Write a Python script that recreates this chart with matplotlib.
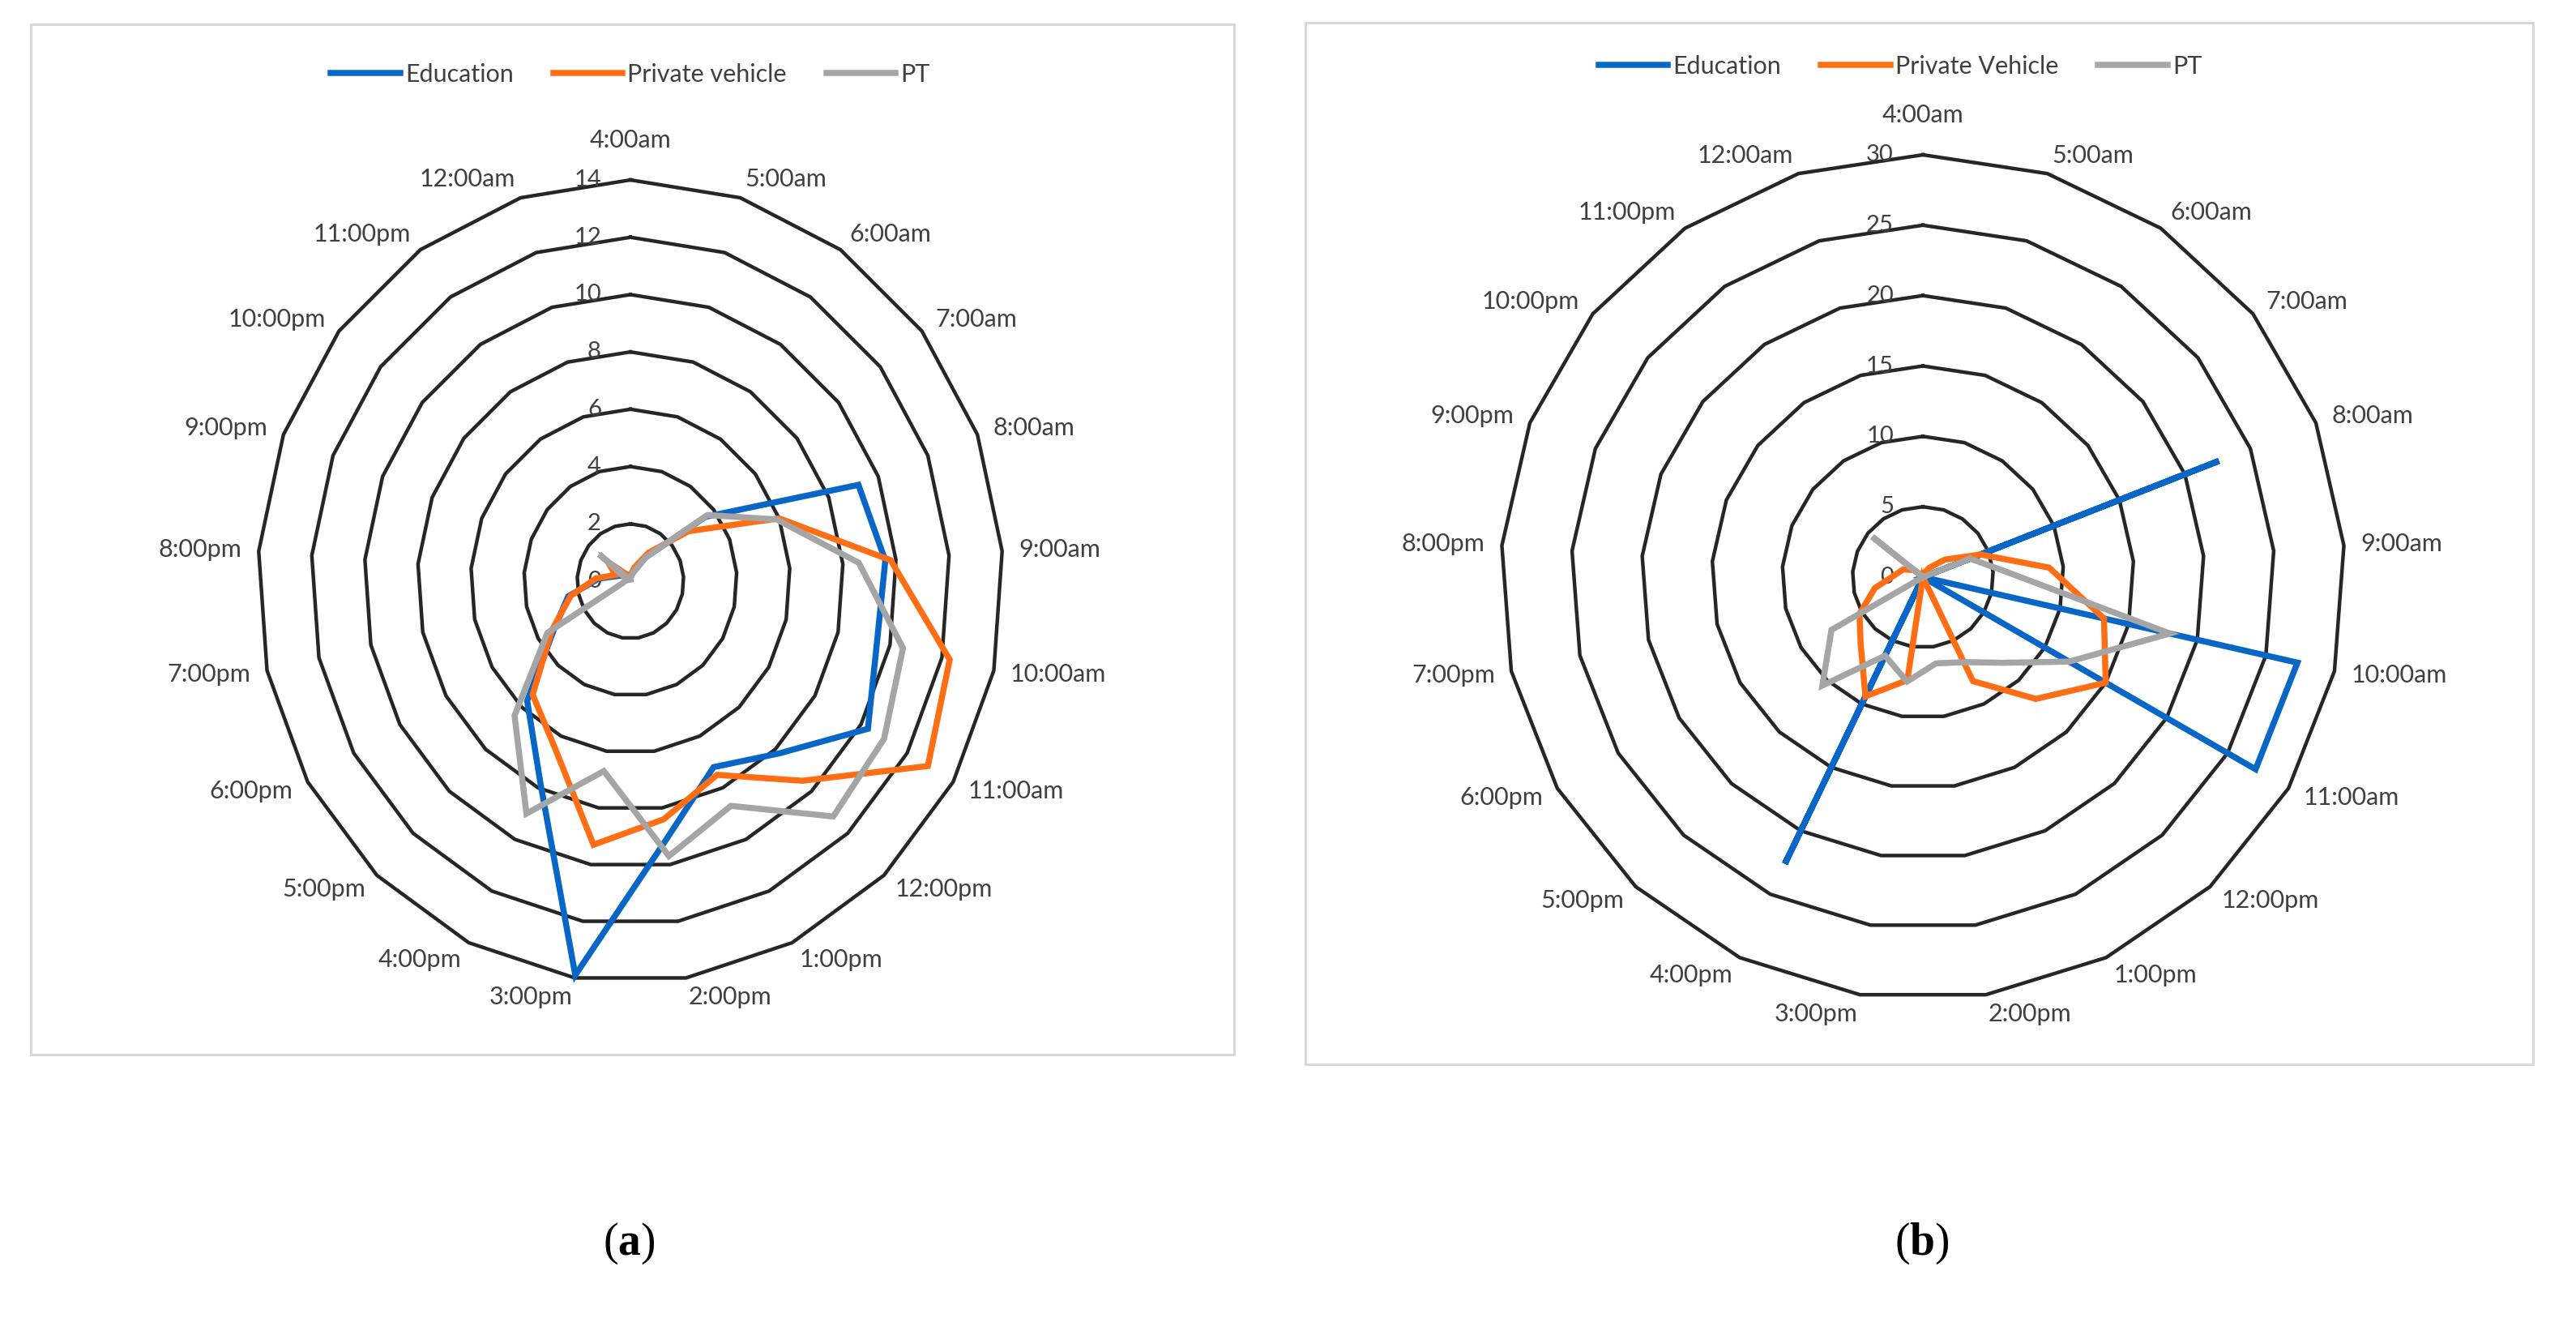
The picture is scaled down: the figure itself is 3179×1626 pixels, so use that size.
import numpy as np
import matplotlib.pyplot as plt
from matplotlib.patches import Rectangle
from matplotlib.lines import Line2D

plt.rcParams['font.family'] = ['Lato', 'DejaVu Sans']
plt.rcParams['mathtext.fontset'] = 'custom'
plt.rcParams['mathtext.rm'] = 'Liberation Serif'
plt.rcParams['mathtext.bf'] = 'Liberation Serif:bold'

hours = ['4:00am', '5:00am', '6:00am', '7:00am', '8:00am', '9:00am', '10:00am',
         '11:00am', '12:00pm', '1:00pm', '2:00pm', '3:00pm', '4:00pm', '5:00pm',
         '6:00pm', '7:00pm', '8:00pm', '9:00pm', '10:00pm', '11:00pm', '12:00am']

# panel (a)
edu_a = [0.2, 0.3, 1.0, 3.6, 9.2, 9.6, 9.5, 10.3, 8.2, 7.2, 9.1, 13.9, 7.8, 5.7,
         3.3, 2.4, 1.2, 0.5, 0.9, 0.3, 0.2]
pv_a = [0.2, 0.5, 1.2, 2.8, 6.0, 9.8, 12.3, 12.9, 9.5, 7.5, 8.4, 9.3, 6.5, 5.4,
        3.4, 2.3, 1.3, 0.6, 1.1, 0.3, 0.2]
pt_a = [0.1, 0.3, 1.0, 3.7, 5.9, 8.6, 10.5, 11.0, 11.2, 8.7, 9.7, 6.7, 9.0, 6.4,
        3.6, 0.3, 0.2, 0.1, 1.5, 0.1, 0.1]
ticks_a = [0, 2, 4, 6, 8, 10, 12, 14]

# panel (b)
edu_b = [0, 0, 0, 0, 22.6, 0, 27.3, 27.3, 0, 0, 0, 0, 22.6, 0,
         0, 0, 0, 0, 0, 0, 0]
pv_b = [0, 0.3, 0.8, 2.0, 4.4, 9.0, 13.2, 15.0, 11.8, 8.2, 0, 7.4, 9.4, 6.5,
        5.2, 3.5, 2.0, 1.5, 0.8, 0.2, 0]
pt_b = [0, 0, 0, 0, 3.6, 5.8, 18.0, 12.0, 8.3, 6.7, 6.2, 7.5, 6.2, 10.5,
        7.5, 0, 0, 0, 4.6, 0, 0]
ticks_b = [0, 5, 10, 15, 20, 25, 30]

names_a = ['Education', 'Private vehicle', 'PT']
names_b = ['Education', 'Private Vehicle', 'PT']
colours = ['#0866C6', '#FF6E14', '#A5A5A5']
txt = '#404040'

W, H = 3179, 1626
fig = plt.figure(figsize=(W / 100, H / 100), dpi=100)


def radar(cx, cy, rx, ry, series, names, ticks, leg_x, leg_y):
    ax = fig.add_axes([(cx - rx) / W, (H - cy - ry) / H, 2 * rx / W, 2 * ry / H],
                      projection='polar')
    ax.set_aspect('auto')
    ax.set_theta_zero_location('N')
    ax.set_theta_direction(-1)
    n = len(hours)
    th = np.arange(n + 1) * 2 * np.pi / n
    for t in ticks[1:]:
        ax.plot(th, [t] * (n + 1), color='#262626', lw=3.2, clip_on=False, zorder=1)
    for vals, c in zip(series, colours):
        v = list(vals) + [vals[0]]
        ax.plot(th, v, color=c, lw=5.4, clip_on=False, zorder=3,
                solid_joinstyle='miter')
    ax.set_ylim(0, ticks[-1])
    ax.set_xticks([])
    ax.set_yticks([])
    ax.grid(False)
    ax.spines['polar'].set_visible(False)
    ax.patch.set_alpha(0)
    # value labels sit left of the 4:00am spoke
    for t in ticks:
        ax.annotate(str(t), xy=(0, t), xytext=(-26, 0), textcoords='offset points',
                    ha='right', va='center', fontsize=21, color=txt, zorder=2)
    for i, lab in enumerate(hours):
        a = th[i]
        s, c = np.sin(a), np.cos(a)
        ha = 'center' if abs(s) < 0.05 else ('left' if s > 0 else 'right')
        off = (0, 35) if i == 0 else (15 * s, 17 * c)
        ax.annotate(lab, xy=(a, ticks[-1]), xytext=off,
                    textcoords='offset points', ha=ha, va='center',
                    fontsize=22, color=txt, annotation_clip=False)
    handles = [Line2D([], [], color=c, lw=5.4) for c in colours]
    fig.legend(handles, names, loc='center', bbox_to_anchor=(leg_x / W, 1 - leg_y / H),
               ncol=3, frameon=False, fontsize=22, handlelength=2.8,
               handletextpad=0.2, columnspacing=1.6, labelcolor=txt)
    return ax


radar(778, 717, 460, 495, [edu_a, pv_a, pt_a], names_a, ticks_a, 778, 92)
radar(2373, 712, 521, 521, [edu_b, pv_b, pt_b], names_b, ticks_b, 2345, 82)

# panel frames
for x0, y0, x1, y1 in [(38, 30, 1523, 1301), (1611, 28, 3126, 1313)]:
    fig.add_artist(Rectangle((x0 / W, 1 - y1 / H), (x1 - x0) / W, (y1 - y0) / H,
                             transform=fig.transFigure, fill=False,
                             edgecolor='#d6d6d6', lw=2))

fig.text(776 / W, 1 - 1534 / H, r'$\mathrm{(}\mathbf{a}\mathrm{)}$', fontsize=40,
         ha='center', va='center')
fig.text(2372 / W, 1 - 1534 / H, r'$\mathrm{(}\mathbf{b}\mathrm{)}$', fontsize=40,
         ha='center', va='center')

fig.savefig('out.png', dpi=100, facecolor='white')
